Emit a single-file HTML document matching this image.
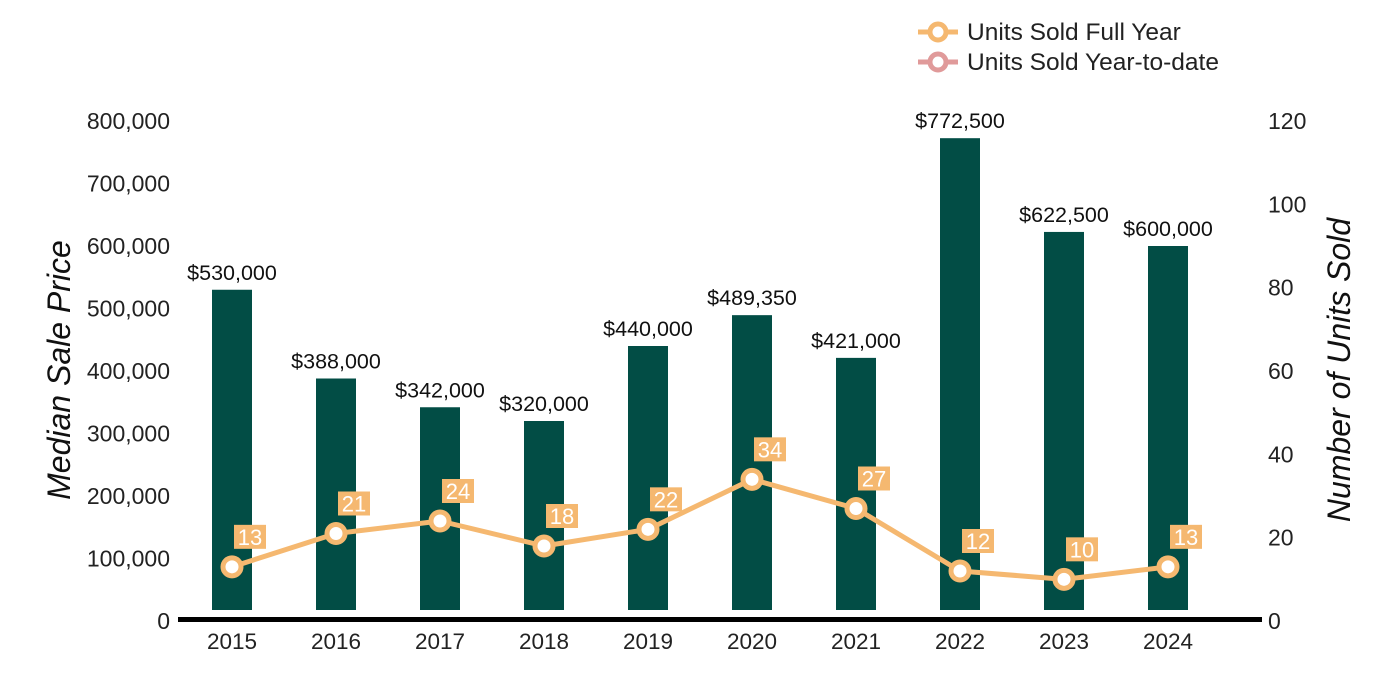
<!DOCTYPE html>
<html><head><meta charset="utf-8"><style>
body{margin:0;background:#fff;}
svg{display:block;font-family:"Liberation Sans",Arial,sans-serif;}
</style></head><body>
<svg id="c" width="1400" height="700">
<g>
<g>
<line x1="918" y1="32" x2="958" y2="32" stroke="#F5B870" stroke-width="5"/>
<circle cx="938" cy="32" r="8" fill="#fff" stroke="#F5B870" stroke-width="5"/>
<text x="967" y="40" font-size="24.5" fill="#222">Units Sold Full Year</text></g>
<g>
<line x1="918" y1="62" x2="958" y2="62" stroke="#E09A9A" stroke-width="5"/>
<circle cx="938" cy="62" r="8" fill="#fff" stroke="#E09A9A" stroke-width="5"/>
<text x="967" y="70" font-size="24.5" fill="#222">Units Sold Year-to-date</text></g>
</g>
<text transform="translate(70,370) rotate(-90)" text-anchor="middle" font-size="32" font-style="italic" fill="#111">Median Sale Price</text>
<text transform="translate(1350,370) rotate(-90)" text-anchor="middle" font-size="32" font-style="italic" fill="#111">Number of Units Sold</text>
<g id="g"></g>
</svg>
<script>
const years=["2015","2016","2017","2018","2019","2020","2021","2022","2023","2024"];
const prices=[530000,388000,342000,320000,440000,489350,421000,772500,622500,600000];
const units=[13,21,24,18,22,34,27,12,10,13];
const leftTicks=[0,100000,200000,300000,400000,500000,600000,700000,800000];
const rightTicks=[0,20,40,60,80,100,120];
const NS="http://www.w3.org/2000/svg";
const g=document.getElementById('g');
const yL=v=>621-v*500/800000;
const yR=v=>621-v*500/120;
const x=i=>232+i*104;
function el(t,a,p){const e=document.createElementNS(NS,t);for(const k in a)e.setAttribute(k,a[k]);(p||g).appendChild(e);return e;}
leftTicks.forEach(v=>{const t=el('text',{x:170,y:yL(v)+8,'text-anchor':'end','font-size':23,fill:'#222'});t.textContent=v.toLocaleString('en-US');

});
rightTicks.forEach(v=>{const t=el('text',{x:1268,y:yR(v)+8,'font-size':23,fill:'#222'});t.textContent=v;

});
prices.forEach((p,i)=>{const top=yL(p);const r=el('rect',{x:x(i)-20,y:top,width:40,height:Math.max(0,610-top),fill:'#024D45'});


const t=el('text',{x:x(i),y:top-10,'text-anchor':'middle','font-size':21.5,fill:'#111'});t.textContent='$'+p.toLocaleString('en-US');

});
const ax=el('line',{x1:178,y1:619.5,x2:1262,y2:619.5,stroke:'#000','stroke-width':5});


years.forEach((y,i)=>{const t=el('text',{x:x(i),y:649,'text-anchor':'middle','font-size':22.5,fill:'#222'});t.textContent=y;

});
const pl=el('polyline',{points:units.map((u,i)=>x(i)+','+yR(u)).join(' '),fill:'none',stroke:'#F5B870','stroke-width':5,'stroke-linejoin':'round'});


units.forEach((u,i)=>{const cy=yR(u);
const c=el('circle',{cx:x(i),cy:cy,r:9,fill:'#fff',stroke:'#F5B870','stroke-width':5});


const r=el('rect',{x:x(i)+2,y:cy-42,width:32,height:24,fill:'#F5B870'});


const t=el('text',{x:x(i)+18,y:cy-22,'text-anchor':'middle','font-size':22,fill:'#fff'});t.textContent=u;

});
</script>
</body></html>
